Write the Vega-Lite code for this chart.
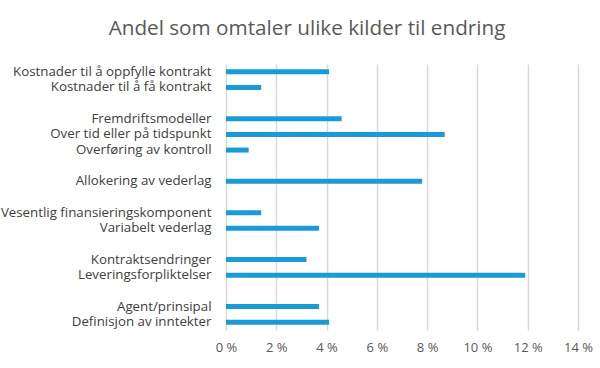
{
  "$schema": "https://vega.github.io/schema/vega-lite/v6.json",
  "width": 352,
  "height": 266,
  "autosize": {"type": "none"},
  "padding": {"left": 226, "top": 64, "right": 22, "bottom": 38},
  "background": "white",
  "title": {
    "text": "Andel som omtaler ulike kilder til endring",
    "anchor": "middle",
    "frame": "group",
    "dx": -95,
    "offset": 24,
    "font": "Open Sans",
    "fontSize": 20.7,
    "fontWeight": "normal",
    "color": "#595959"
  },
  "data": {
    "values": [
      {"kilde": "Kostnader til å oppfylle kontrakt", "andel": 4.1},
      {"kilde": "Kostnader til å få kontrakt", "andel": 1.4},
      {"kilde": "Fremdriftsmodeller", "andel": 4.6},
      {"kilde": "Over tid eller på tidspunkt", "andel": 8.7},
      {"kilde": "Overføring av kontroll", "andel": 0.9},
      {"kilde": "Allokering av vederlag", "andel": 7.8},
      {"kilde": "Vesentlig finansieringskomponent", "andel": 1.4},
      {"kilde": "Variabelt vederlag", "andel": 3.7},
      {"kilde": "Kontraktsendringer", "andel": 3.2},
      {"kilde": "Leveringsforpliktelser", "andel": 11.9},
      {"kilde": "Agent/prinsipal", "andel": 3.7},
      {"kilde": "Definisjon av inntekter", "andel": 4.1}
    ]
  },
  "mark": {"type": "bar", "color": "#1a9ad7"},
  "encoding": {
    "y": {
      "field": "kilde",
      "type": "nominal",
      "scale": {
        "domain": [
          "Kostnader til å oppfylle kontrakt",
          "Kostnader til å få kontrakt",
          " ",
          "Fremdriftsmodeller",
          "Over tid eller på tidspunkt",
          "Overføring av kontroll",
          "  ",
          "Allokering av vederlag",
          "   ",
          "Vesentlig finansieringskomponent",
          "Variabelt vederlag",
          "    ",
          "Kontraktsendringer",
          "Leveringsforpliktelser",
          "     ",
          "Agent/prinsipal",
          "Definisjon av inntekter"
        ],
        "paddingInner": 0.68,
        "paddingOuter": 0.34
      },
      "axis": {
        "title": null,
        "domain": false,
        "ticks": false,
        "labelPadding": 15,
        "labelFont": "Open Sans",
        "labelFontSize": 13.3,
        "labelColor": "#404040",
        "labelLimit": 0,
        "labelOverlap": false
      }
    },
    "x": {
      "field": "andel",
      "type": "quantitative",
      "scale": {"domain": [0, 14], "nice": false},
      "axis": {
        "title": null,
        "values": [0, 2, 4, 6, 8, 10, 12, 14],
        "labelExpr": "datum.value + ' %'",
        "labelFlush": false,
        "domain": false,
        "ticks": false,
        "grid": true,
        "gridColor": "#d9d9d9",
        "gridWidth": 1.5,
        "labelPadding": 11,
        "labelFont": "Open Sans",
        "labelFontSize": 13,
        "labelColor": "#595959"
      }
    }
  },
  "config": {"view": {"stroke": null}}
}
